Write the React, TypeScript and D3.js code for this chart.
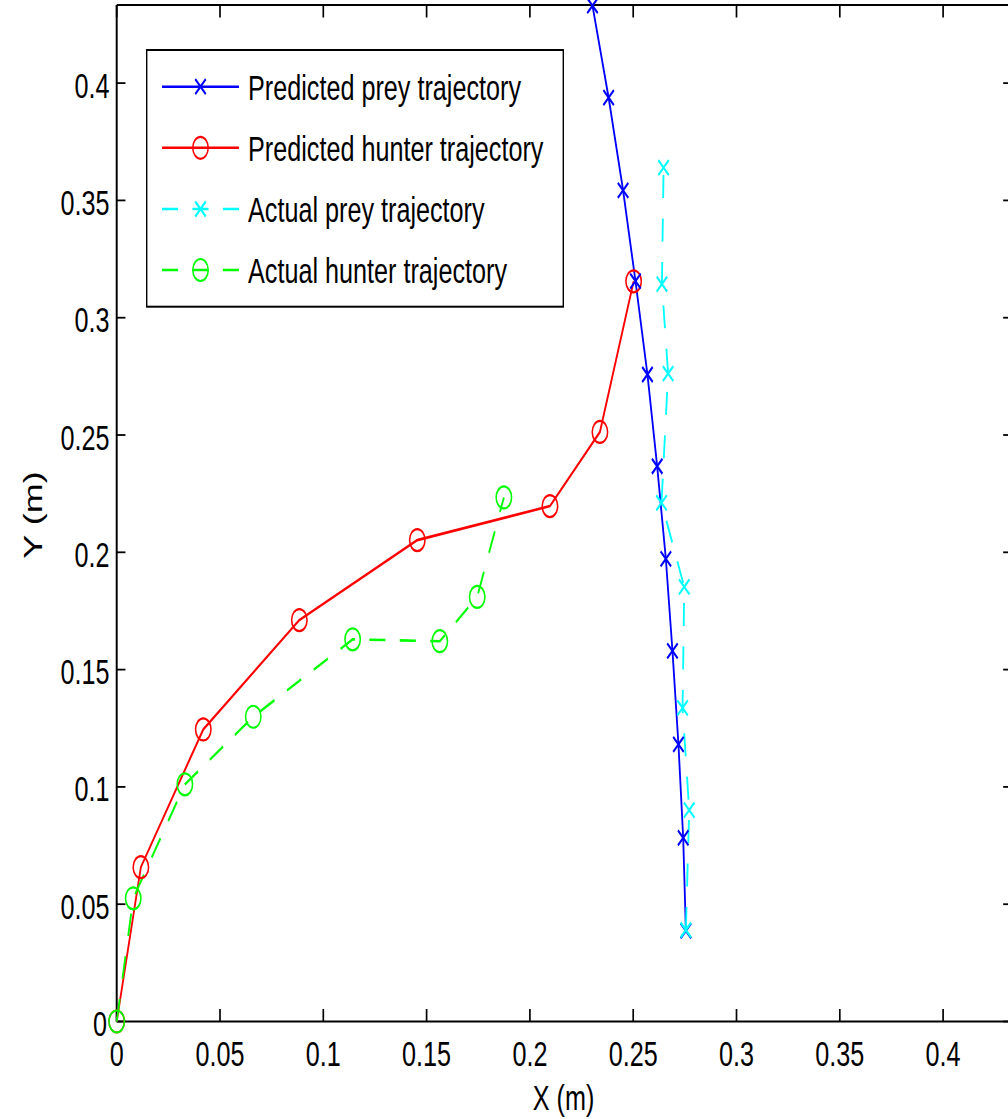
import React from "react";
import * as d3 from "d3";

// ---- Data ----
const predPreyX = [0.2755, 0.2742, 0.2719, 0.269, 0.2658, 0.2616, 0.2569, 0.2511, 0.2451, 0.2381, 0.2303];
const predPreyY = [0.0386, 0.0783, 0.1181, 0.158, 0.1972, 0.2367, 0.2758, 0.3156, 0.3543, 0.3938, 0.433];

const predHunterX = [0, 0.0117, 0.0419, 0.0884, 0.1455, 0.2097, 0.2339, 0.2502];
const predHunterY = [0, 0.0658, 0.1245, 0.1711, 0.2052, 0.2197, 0.2513, 0.3155];

const actPreyX = [0.2755, 0.2771, 0.2739, 0.2747, 0.2637, 0.2669, 0.2639, 0.2647];
const actPreyY = [0.039, 0.0901, 0.1337, 0.1853, 0.2211, 0.2762, 0.3143, 0.364];

const actHunterX = [0, 0.008, 0.033, 0.0661, 0.1142, 0.1564, 0.1745, 0.1874];
const actHunterY = [0, 0.0525, 0.1011, 0.1299, 0.1629, 0.1621, 0.181, 0.2234];

const xTicks = [0, 0.05, 0.1, 0.15, 0.2, 0.25, 0.3, 0.35, 0.4];
const yTicks = [0, 0.05, 0.1, 0.15, 0.2, 0.25, 0.3, 0.35, 0.4];
const tickLabels = ["0", "0.05", "0.1", "0.15", "0.2", "0.25", "0.3", "0.35", "0.4"];

const legendLabels = [
  "Predicted prey trajectory",
  "Predicted hunter trajectory",
  "Actual prey trajectory",
  "Actual hunter trajectory",
];

const X_MAX = 0.4333;
const Y_MAX = 0.4333;

// horizontal squeeze of the whole figure
const SX = 0.7;
const FONT = "'Liberation Sans', Arial, Helvetica, sans-serif";

export default function App() {
  const W = 1008;
  const H = 1119;
  const x = d3.scaleLinear().domain([0, X_MAX]).range([116.7 / SX, 1011.9 / SX]);
  const y = d3.scaleLinear().domain([0, Y_MAX]).range([1021.5, 5]);
  const line = d3
    .line<[number, number]>()
    .x((d) => x(d[0]))
    .y((d) => y(d[1]));

  const zip = (a: number[], b: number[]) => a.map((v, i) => [v, b[i]] as [number, number]);

  const series = [
    { key: "ph", pts: zip(predHunterX, predHunterY), color: "#ff0000", dash: null, marker: "o" },
    { key: "pp", pts: zip(predPreyX, predPreyY), color: "#0000ff", dash: null, marker: "x" },
    { key: "ah", pts: zip(actHunterX, actHunterY), color: "#00ff00", dash: "23,20.5", marker: "o" },
    { key: "ap", pts: zip(actPreyX, actPreyY), color: "#00ffff", dash: "23,20.5", marker: "x" },
  ];
  const legendSeries = [series[1], series[0], series[3], series[2]];

  const xl = x(0);
  const xr = x(X_MAX);
  const yb = y(0);
  const yt = y(Y_MAX);
  const tickLen = 12.5;

  const marker = (m: string, cx: number, cy: number, color: string, k: string) => {
    if (m === "o") {
      return <circle key={k} cx={cx} cy={cy} r={11} fill="none" stroke={color} strokeWidth={2.2} />;
    }
    const s = 7.5;
    return (
      <path
        key={k}
        d={`M${cx - s},${cy - s}L${cx + s},${cy + s}M${cx - s},${cy + s}L${cx + s},${cy - s}`}
        stroke={color}
        strokeWidth={2.6}
        fill="none"
      />
    );
  };

  const legX0 = 146.7 / SX;
  const legX1 = 563.3 / SX;
  const legY0 = 50;
  const legY1 = 306.7;
  const rowY = [86.7, 147.8, 209, 270];

  return (
    <svg
      width={W}
      height={H}
      style={{ position: "absolute", left: 0, top: 0, background: "#fff" }}
      xmlns="http://www.w3.org/2000/svg"
    >
      <rect x={0} y={0} width={W} height={H} fill="#fff" />
      <g transform={`scale(${SX},1)`} fontFamily={FONT}>
        {/* axes box */}
        <line x1={xl} y1={yb} x2={xr} y2={yb} stroke="#000" strokeWidth={2} />
        <line x1={xl} y1={yt} x2={xr} y2={yt} stroke="#000" strokeWidth={2} />
        <line x1={xl} y1={yt} x2={xl} y2={yb} stroke="#000" strokeWidth={2.8} />
        <line x1={xr} y1={yt} x2={xr} y2={yb} stroke="#000" strokeWidth={2.8} />

        {/* x ticks */}
        {xTicks.map((t, i) => (
          <g key={"xt" + i}>
            <line x1={x(t)} x2={x(t)} y1={yb} y2={yb - tickLen} stroke="#000" strokeWidth={2.4} />
            <line x1={x(t)} x2={x(t)} y1={yt} y2={yt + tickLen} stroke="#000" strokeWidth={2.4} />
            <text x={x(t)} y={1066} fontSize={36} textAnchor="middle" fill="#000">
              {tickLabels[i]}
            </text>
          </g>
        ))}
        {/* y ticks */}
        {yTicks.map((t, i) => (
          <g key={"yt" + i}>
            <line x1={xl} x2={xl + tickLen} y1={y(t)} y2={y(t)} stroke="#000" strokeWidth={1.8} />
            <line x1={xr} x2={xr - tickLen} y1={y(t)} y2={y(t)} stroke="#000" strokeWidth={1.8} />
            <text x={(t === 0 ? 107 : 109.5) / SX} y={y(t) + 14.5} fontSize={36} textAnchor="end" fill="#000">
              {tickLabels[i]}
            </text>
          </g>
        ))}

        {/* axis labels */}
        <text x={563.5 / SX} y={1110} fontSize={36} textAnchor="middle" fill="#000">
          X (m)
        </text>
        <text
          transform={`translate(${42 / SX},515) rotate(-90)`}
          fontSize={36}
          textAnchor="middle"
          fill="#000"
        >
          Y (m)
        </text>

        {/* series lines */}
        {series.map((s) => (
          <path
            key={s.key + "l"}
            d={line(s.pts) || ""}
            fill="none"
            stroke={s.color}
            strokeWidth={2.6}
            strokeDasharray={s.dash || undefined}
          />
        ))}
        {/* markers */}
        {series.map((s) => (
          <g key={s.key + "m"}>
            {s.pts.map((p, i) => marker(s.marker, x(p[0]), y(p[1]), s.color, s.key + i))}
          </g>
        ))}

        {/* legend */}
        <rect
          x={legX0}
          y={legY0}
          width={legX1 - legX0}
          height={legY1 - legY0}
          fill="#fff"
          stroke="#000"
          strokeWidth={2}
        />
        {legendSeries.map((s, i) => (
          <g key={"lg" + i}>
            <line
              x1={162 / SX}
              x2={239 / SX}
              y1={rowY[i]}
              y2={rowY[i]}
              stroke={s.color}
              strokeWidth={2.6}
              strokeDasharray={s.dash || undefined}
            />
            {marker(s.marker, 200.5 / SX, rowY[i], s.color, "lm" + i)}
            <text x={248 / SX} y={rowY[i] + 13} fontSize={36} fill="#000">
              {legendLabels[i]}
            </text>
          </g>
        ))}
      </g>
    </svg>
  );
}
